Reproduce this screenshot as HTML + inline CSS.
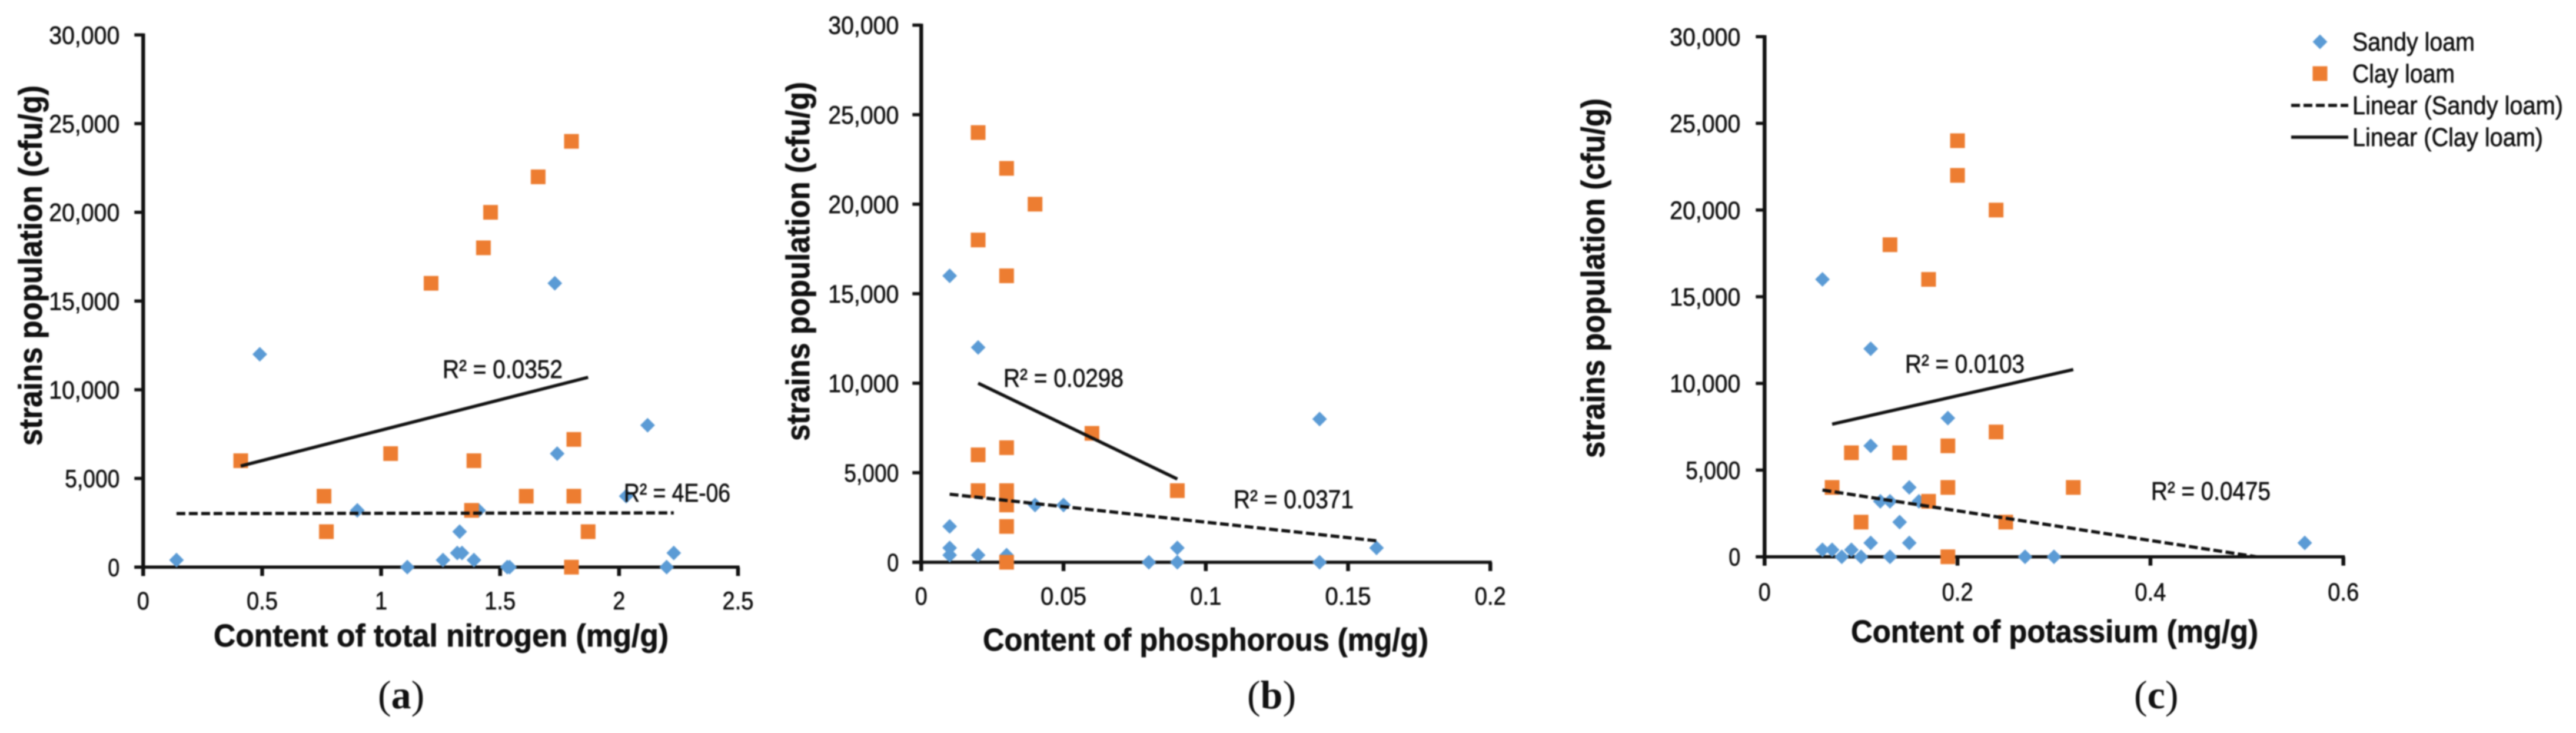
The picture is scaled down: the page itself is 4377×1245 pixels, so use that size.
<!DOCTYPE html>
<html lang="en">
<head>
<meta charset="utf-8">
<title>Strains population vs soil nutrient content</title>
<style>
html,body{margin:0;padding:0;background:#fff;width:4377px;height:1245px;overflow:hidden}
#chart{display:block;width:4377px;height:1245px;filter:blur(1.1px)}
text{font-family:"Liberation Sans",sans-serif;fill:#111;stroke:#111;stroke-width:0.7px}
</style>
</head>
<body>
<svg id="chart" xmlns="http://www.w3.org/2000/svg" width="4377" height="1245" viewBox="0 0 4377 1245"></svg>
<script>
// ---------- Data ----------
const yTickValues = [0, 5000, 10000, 15000, 20000, 25000, 30000];
const yTickLabels = ['0', '5,000', '10,000', '15,000', '20,000', '25,000', '30,000'];

const nitrogenTicks = [0, 0.5, 1, 1.5, 2, 2.5];
const nitrogenTickLabels = ['0', '0.5', '1', '1.5', '2', '2.5'];
const nitrogenSandyX = [0.14, 0.49, 0.9, 1.11, 1.26, 1.32, 1.34, 1.33, 1.39, 1.41, 1.53, 1.54, 1.73, 1.74, 2.03, 2.12, 2.2, 2.23];
const nitrogenSandyY = [400, 12000, 3200, 0, 400, 800, 800, 2000, 400, 3200, 0, 0, 16000, 6400, 4000, 8000, 0, 800];
const nitrogenClayX = [0.41, 0.76, 0.77, 1.04, 1.21, 1.38, 1.39, 1.43, 1.46, 1.61, 1.66, 1.8, 1.8, 1.81, 1.81, 1.87];
const nitrogenClayY = [6000, 4000, 2000, 6400, 16000, 3200, 6000, 18000, 20000, 4000, 22000, 24000, 0, 7200, 4000, 2000];
const nitrogenSandyTrendX = [0.14, 2.23];
const nitrogenSandyTrendY = [3020, 3060];
const nitrogenClayTrendX = [0.41, 1.87];
const nitrogenClayTrendY = [5700, 10700];

const phosphorusTicks = [0, 0.05, 0.1, 0.15, 0.2];
const phosphorusTickLabels = ['0', '0.05', '0.1', '0.15', '0.2'];
const phosphorusSandyX = [0.01, 0.02, 0.14, 0.01, 0.01, 0.01, 0.02, 0.03, 0.03, 0.04, 0.05, 0.09, 0.08, 0.09, 0.14, 0.16];
const phosphorusSandyY = [16000, 12000, 8000, 2000, 800, 400, 400, 400, 0, 3200, 3200, 800, 0, 0, 0, 800];
const phosphorusClayX = [0.02, 0.03, 0.04, 0.02, 0.03, 0.06, 0.03, 0.02, 0.02, 0.03, 0.03, 0.09, 0.03, 0.03];
const phosphorusClayY = [24000, 22000, 20000, 18000, 16000, 7200, 6400, 6000, 4000, 4000, 3200, 4000, 2000, 0];
const phosphorusSandyTrendX = [0.01, 0.16];
const phosphorusSandyTrendY = [3800, 1200];
const phosphorusClayTrendX = [0.02, 0.09];
const phosphorusClayTrendY = [10000, 4650];

const potassiumTicks = [0, 0.2, 0.4, 0.6];
const potassiumTickLabels = ['0', '0.2', '0.4', '0.6'];
const potassiumSandyX = [0.06, 0.11, 0.19, 0.11, 0.15, 0.12, 0.13, 0.16, 0.14, 0.11, 0.15, 0.06, 0.07, 0.09, 0.08, 0.1, 0.13, 0.27, 0.3, 0.56];
const potassiumSandyY = [16000, 12000, 8000, 6400, 4000, 3200, 3200, 3200, 2000, 800, 800, 400, 400, 400, 0, 0, 0, 0, 0, 800];
const potassiumClayX = [0.2, 0.2, 0.24, 0.13, 0.17, 0.24, 0.19, 0.09, 0.14, 0.07, 0.19, 0.32, 0.17, 0.1, 0.25, 0.19];
const potassiumClayY = [24000, 22000, 20000, 18000, 16000, 7200, 6400, 6000, 6000, 4000, 4000, 4000, 3200, 2000, 2000, 0];
const potassiumSandyTrendX = [0.06, 0.51];
const potassiumSandyTrendY = [3850, 0];
const potassiumClayTrendX = [0.07, 0.32];
const potassiumClayTrendY = [7650, 10800];

const legendLabels = ['Sandy loam', 'Clay loam', 'Linear (Sandy loam)', 'Linear (Clay loam)'];

// ---------- Helpers ----------
const svg = document.getElementById('chart');
const NS = 'http://www.w3.org/2000/svg';
const BLUE = '#5B9BD5';
const ORANGE = '#ED7D31';
const INK = '#111111';

function make(tag, attrs, parent) {
  const el = document.createElementNS(NS, tag);
  for (const k in attrs) el.setAttribute(k, attrs[k]);
  parent.appendChild(el);
  return el;
}

function label(str, x, y, size, len, parent, extra) {
  const attrs = Object.assign({x: x, y: y, 'font-size': size, textLength: len, lengthAdjust: 'spacingAndGlyphs'}, extra || {});
  const t = make('text', attrs, parent);
  t.textContent = str;
  return t;
}

function diamond(cx, cy, parent) {
  const r = 12.5;
  return make('polygon', {points: [cx, cy - r, cx + r, cy, cx, cy + r, cx - r, cy].join(','), fill: BLUE}, parent);
}

function square(cx, cy, parent) {
  const s = 25;
  return make('rect', {x: cx - s / 2, y: cy - s / 2, width: s, height: s, fill: ORANGE}, parent);
}

function drawPanel(p) {
  const g = make('g', {}, svg);
  
  

  const sx = v => p.x0 + (v / p.xMax) * (p.x1 - p.x0);
  const sy = v => p.y0 + (v / 30000) * (p.y1 - p.y0);

  // axes
  const yAxis = make('line', {x1: p.x0, x2: p.x0, y1: p.y1 - 2.5, y2: p.y0 + 15, stroke: INK, 'stroke-width': 6.5}, g);
  
  
  const xAxis = make('line', {x1: p.x0 - 15, x2: p.x1 + 2.5, y1: p.y0, y2: p.y0, stroke: INK, 'stroke-width': 5.5}, g);
  
  

  // y ticks and labels
  yTickValues.forEach((v, i) => {
    const y = sy(v);
    const tick = make('line', {x1: p.x0 - 15, x2: p.x0, y1: y, y2: y, stroke: INK, 'stroke-width': 5.5}, g);
    
    
    const s = yTickLabels[i];
    const t = label(s, p.x0 + p.yLabelGap, y + 15, 43, s.length === 1 ? 20 : (s.length === 5 ? 93 : 120), g, {'text-anchor': 'end'});
    
    
  });

  // x ticks and labels
  p.xTicks.forEach((v, i) => {
    const x = sx(v);
    const tick = make('line', {x1: x, x2: x, y1: p.y0, y2: p.y0 + 15, stroke: INK, 'stroke-width': 6.5}, g);
    
    
    const s = p.xTickLabels[i];
    const w = s.length === 1 ? 21 : (s.length === 3 ? 53 : 78);
    const t = label(s, x - w / 2, p.xLabelY, 43, w, g);
    
    
  });

  // series
  p.sandyX.forEach((v, i) => {
    const m = diamond(sx(v), sy(p.sandyY[i]), g);
    
    
  });
  p.clayX.forEach((v, i) => {
    const m = square(sx(v), sy(p.clayY[i]), g);
    
    
  });

  // trendlines
  const sandyTrend = make('line', {x1: sx(p.sandyTrendX[0]), y1: sy(p.sandyTrendY[0]), x2: sx(p.sandyTrendX[1]), y2: sy(p.sandyTrendY[1]), stroke: INK, 'stroke-width': 5.5, 'stroke-dasharray': '15 6'}, g);
  
  
  const clayTrend = make('line', {x1: sx(p.clayTrendX[0]), y1: sy(p.clayTrendY[0]), x2: sx(p.clayTrendX[1]), y2: sy(p.clayTrendY[1]), stroke: INK, 'stroke-width': 5.5}, g);
  
  

  // r-squared labels
  p.r2.forEach(r => {
    const t = label(r.text, r.x, r.y + 15, 44, r.w, g);
    
    
  });

  // axis titles
  const xt = label(p.xTitle, p.xTitleX, p.xTitleY, 54, p.xTitleW, g, {'font-weight': 'bold'});
  
  

  const yt = label('strains population (cfu/g)', 0, 0, 56, p.yTitleLen, g, {'font-weight': 'bold', transform: 'translate(' + p.yTitleX + ',' + p.yTitleBottom + ') rotate(-90)'});
  
  

  // caption
  const cap = make('text', {x: p.capX, y: 1203, 'font-size': 68, 'style': 'font-family:"Liberation Serif",serif;stroke-width:0'}, g);
  
  
  cap.appendChild(document.createTextNode('('));
  const letter = make('tspan', {'font-weight': 'bold'}, cap);
  letter.textContent = p.letter;
  cap.appendChild(document.createTextNode(')'));
}

// ---------- Panels ----------
drawPanel({
  id: 'nitrogen', letter: 'a', capX: 642,
  x0: 243.3, x1: 1254, y0: 963.3, y1: 59.3, xMax: 2.5, yLabelGap: -40,
  xTicks: nitrogenTicks, xTickLabels: nitrogenTickLabels, xLabelY: 1035,
  sandyX: nitrogenSandyX, sandyY: nitrogenSandyY, clayX: nitrogenClayX, clayY: nitrogenClayY,
  sandyTrendX: nitrogenSandyTrendX, sandyTrendY: nitrogenSandyTrendY, clayTrendX: nitrogenClayTrendX, clayTrendY: nitrogenClayTrendY,
  r2: [{text: 'R² = 0.0352', x: 752, y: 627, w: 204}, {text: 'R² = 4E-06', x: 1060, y: 837, w: 181}],
  xTitle: 'Content of total nitrogen (mg/g)', xTitleX: 363, xTitleY: 1098, xTitleW: 773,
  yTitleX: 71, yTitleBottom: 757, yTitleLen: 612
});
drawPanel({
  id: 'phosphorus', letter: 'b', capX: 2119,
  x0: 1565.3, x1: 2532.3, y0: 955, y1: 42.7, xMax: 0.2, yLabelGap: -38,
  xTicks: phosphorusTicks, xTickLabels: phosphorusTickLabels, xLabelY: 1027,
  sandyX: phosphorusSandyX, sandyY: phosphorusSandyY, clayX: phosphorusClayX, clayY: phosphorusClayY,
  sandyTrendX: phosphorusSandyTrendX, sandyTrendY: phosphorusSandyTrendY, clayTrendX: phosphorusClayTrendX, clayTrendY: phosphorusClayTrendY,
  r2: [{text: 'R² = 0.0298', x: 1705, y: 642, w: 204}, {text: 'R² = 0.0371', x: 2096, y: 848, w: 204}],
  xTitle: 'Content of phosphorous (mg/g)', xTitleX: 1670, xTitleY: 1105, xTitleW: 757,
  yTitleX: 1375, yTitleBottom: 749, yTitleLen: 610
});
drawPanel({
  id: 'potassium', letter: 'c', capX: 3626,
  x0: 2998.3, x1: 3981.7, y0: 945.7, y1: 62.3, xMax: 0.6, yLabelGap: -41,
  xTicks: potassiumTicks, xTickLabels: potassiumTickLabels, xLabelY: 1020,
  sandyX: potassiumSandyX, sandyY: potassiumSandyY, clayX: potassiumClayX, clayY: potassiumClayY,
  sandyTrendX: potassiumSandyTrendX, sandyTrendY: potassiumSandyTrendY, clayTrendX: potassiumClayTrendX, clayTrendY: potassiumClayTrendY,
  r2: [{text: 'R² = 0.0103', x: 3237, y: 618, w: 203}, {text: 'R² = 0.0475', x: 3655, y: 834, w: 203}],
  xTitle: 'Content of potassium (mg/g)', xTitleX: 3145, xTitleY: 1091, xTitleW: 692,
  yTitleX: 2726, yTitleBottom: 778, yTitleLen: 611
});

// ---------- Legend ----------
const legend = make('g', {}, svg);



const legendMarkerA = diamond(3942, 71, legend);


const legendMarkerB = square(3942, 125, legend);


const legendLineA = make('line', {x1: 3893, x2: 3990, y1: 179, y2: 179, stroke: INK, 'stroke-width': 5.5, 'stroke-dasharray': '15 6'}, legend);


const legendLineB = make('line', {x1: 3893, x2: 3990, y1: 233, y2: 233, stroke: INK, 'stroke-width': 5.5}, legend);



const legendRows = [[86, 208], [140, 174], [194, 358], [248, 324]];
legendLabels.forEach((s, i) => {
  const t = label(s, 3997, legendRows[i][0], 44, legendRows[i][1], legend);
  
  
});
</script>
</body>
</html>
